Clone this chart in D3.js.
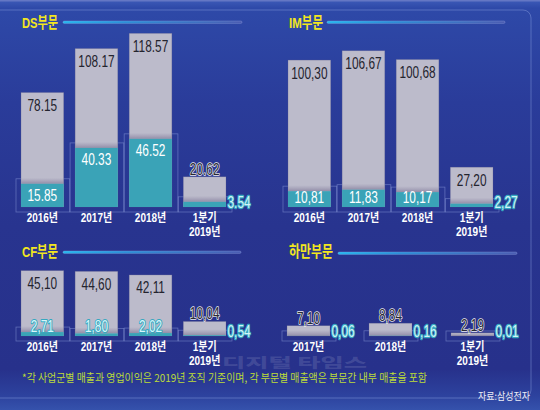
<!DOCTYPE html>
<html><head><meta charset="utf-8">
<script src="https://cdn.jsdelivr.net/npm/d3@7"></script>
<style>html,body{margin:0;padding:0;background:#28348f;overflow:hidden}</style>
</head><body><svg id="c" width="540" height="410"></svg>
<script>
// ---- data (조원) ----
const periods = ["2016년","2017년","2018년","1분기|2019년"];
const dsSales = [78.15,108.17,118.57,20.62];
const dsProfit = [15.85,40.33,46.52,3.54];
const imSales = [100.30,106.67,100.68,27.20];
const imProfit = [10.81,11.83,10.17,2.27];
const cfSales = [45.10,44.60,42.11,10.04];
const cfProfit = [2.71,1.80,2.02,0.54];
const harmanPeriods = ["2017년","2018년","1분기|2019년"];
const harmanSales = [7.10,8.84,2.19];
const harmanProfit = [0.06,0.16,0.01];
const titles = ["DS부문","IM부문","CF부문","하만부문"];
const decimalSep = [".", ",", ",", ","];
const footnote = "*각 사업군별 매출과 영업이익은 2019년 조직 기준이며, 각 부문별 매출액은 부문간 내부 매출을 포함";
const source = "자료:삼성전자";
const watermark = "디지털 타임스";

const svg = d3.select("#c");
const defs = svg.append("defs");

// background
const bg = defs.append("linearGradient").attr("id","bg").attr("x1",0).attr("y1",0).attr("x2",0).attr("y2",1);
[[0,"#3d5bb8"],[0.02,"#2e49a8"],[0.25,"#2a3c9a"],[0.55,"#28348f"],[0.9,"#27318b"],[0.965,"#2d429e"],[1,"#3552ac"]]
  .forEach(([o,c])=>bg.append("stop").attr("offset",o).attr("stop-color",c));
svg.append("rect").attr("width",540).attr("height",410).attr("fill","url(#bg)");
svg.append("rect").attr("x",0).attr("y",0).attr("width",540).attr("height",1.5).attr("fill","#6477c4");
svg.append("rect").attr("x",-10).attr("y",10).attr("width",541).attr("height",388).attr("rx",8)
  .attr("fill","none").attr("stroke","rgba(140,160,225,0.45)").attr("stroke-width",1);

// gradients
const lg = defs.append("linearGradient").attr("id","tl").attr("x1",0).attr("x2",1).attr("y1",0).attr("y2",0);
[[0,"#23b8f0"],[0.35,"#2a8fd8"],[1,"#4a5cb2"]].forEach(([o,c])=>lg.append("stop").attr("offset",o).attr("stop-color",c));
const sh = defs.append("linearGradient").attr("id","sh").attr("x1",0).attr("x2",0).attr("y1",0).attr("y2",1);
[[0,"rgba(110,100,140,0)"],[1,"rgba(95,85,125,0.45)"]].forEach(([o,c])=>sh.append("stop").attr("offset",o).attr("stop-color",c));

// watermark
svg.append("text").attr("x",222).attr("y",366.5).attr("font-family","Noto Sans CJK KR").attr("font-weight",900)
  .attr("font-size",13).attr("textLength",145).attr("lengthAdjust","spacingAndGlyphs")
  .attr("fill","rgba(175,180,210,0.2)").text(watermark);

const NUMFONT = "'Liberation Sans', 'Noto Sans CJK KR', sans-serif";
function stxt(g, x, y, s, o) {
  return g.append("text")
    .attr("transform", `translate(${x},${y}) scale(${o.sx||0.72},1)`)
    .attr("text-anchor", o.anchor || "middle")
    .attr("font-family", o.family || NUMFONT)
    .attr("font-size", o.size || 16.5)
    .attr("font-weight", o.weight || 400)
    .attr("fill", o.fill || "#222")
    .attr("stroke", o.stroke || null)
    .attr("stroke-width", o.sw || null)
    .attr("stroke-linejoin","round")
    .attr("paint-order","stroke")
    .text(s);
}

const yTop = d3.scaleLinear().domain([0,120]).range([207, 31.2]);
const yBot = d3.scaleLinear().domain([0,50]).range([336, 263.5]);

const panels = [
  {cats:periods, sales:dsSales, profit:dsProfit, y:yTop, xr:[21,226], pad:0.21, tx:22, ty:28, tw:36, line:[63,242,21]},
  {cats:periods, sales:imSales, profit:imProfit, y:yTop, xr:[288,493], pad:0.21, tx:289, ty:28, tw:34, line:[327,505,21]},
  {cats:periods, sales:cfSales, profit:cfProfit, y:yBot, xr:[21,226], pad:0.21, tx:22, ty:257, tw:36, line:[63,241,251]},
  {cats:harmanPeriods, sales:harmanSales, profit:harmanProfit, y:yBot, xr:[287,494], pad:0.4756, tx:289, ty:257, tw:44, line:[338,517,252]}
];

panels.forEach((p, pi) => {
  const g = svg.append("g");
  const sep = decimalSep[pi];
  const fmt = v => d3.format(".2f")(v).replace(".", sep);
  const x = d3.scaleBand().domain(p.cats).range(p.xr).paddingInner(p.pad).paddingOuter(0);
  const y = p.y;
  const base = y(0);
  const bw = x.bandwidth();

  // title + line
  g.append("text").attr("x",p.tx).attr("y",p.ty).attr("font-family","'Liberation Sans','Noto Sans CJK KR',sans-serif")
    .attr("font-weight",700).attr("font-size",15.5).attr("textLength",p.tw).attr("lengthAdjust","spacingAndGlyphs")
    .attr("fill","#f2e620").text(titles[pi]);
  g.append("rect").attr("x",p.line[0]).attr("y",p.line[2]).attr("width",p.line[1]-p.line[0]).attr("height",2.4)
    .attr("rx",1.2).attr("fill","url(#tl)").attr("stroke","rgba(150,165,225,0.55)").attr("stroke-width",0.6);

  const data = p.cats.map((c,i)=>({c, s:p.sales[i], pr:p.profit[i], q1: c.startsWith("1분기")}));

  // platform boxes
  g.selectAll("rect.box").data(data).join("rect").attr("class","box")
    .attr("x",d=>x(d.c)-5).attr("y",d=>y(d.pr)-5).attr("width",bw+11)
    .attr("height",d=>base+5-(y(d.pr)-5))
    .attr("fill","none").attr("stroke","rgba(165,180,235,0.45)").attr("stroke-width",0.8);

  // sales bars
  g.selectAll("rect.sales").data(data).join("rect").attr("class","sales")
    .attr("x",d=>x(d.c)).attr("y",d=>y(d.s)).attr("width",bw).attr("height",d=>base-y(d.s))
    .attr("fill","#bcbbcb").attr("stroke","rgba(95,95,140,0.45)").attr("stroke-width",0.6);
  // shadow above profit
  g.selectAll("rect.sh").data(data).join("rect").attr("class","sh")
    .attr("x",d=>x(d.c)+0.3).attr("width",bw-0.6)
    .attr("y",d=>Math.max(y(d.s), y(d.pr)-6)).attr("height",d=>y(d.pr)-Math.max(y(d.s), y(d.pr)-6))
    .attr("fill","url(#sh)");
  // profit bars
  g.selectAll("rect.pr").data(data).join("rect").attr("class","pr")
    .attr("x",d=>x(d.c)).attr("y",d=>y(d.pr)).attr("width",bw).attr("height",d=>base-y(d.pr))
    .attr("fill","#3aa3b7");

  data.forEach(d => {
    const cx = x(d.c) + bw/2;
    const top = y(d.s), ptop = y(d.pr);
    // sales label
    if (base - top >= 35) stxt(g, cx, top+18.5, fmt(d.s), {fill:"#24242e"});
    else stxt(g, cx, top-2, fmt(d.s), {fill:"#2a2a35", stroke:"#eeeef4", sw:1.6});
    // profit label
    if (d.q1 || base - top < 20) {
      stxt(g, x(d.c)+bw+1.5, base+1, fmt(d.pr), {anchor:"start", fill:"#d2f3f8", stroke:"#35a8c0", sw:2.4});
    } else if (base - ptop >= 12) {
      stxt(g, cx, Math.min(ptop+17, base-4), fmt(d.pr), {fill:"#ffffff"});
    } else {
      stxt(g, cx, base-4, fmt(d.pr), {fill:"#d6f5fa", stroke:"#35a8c0", sw:2.2});
    }
    // category label
    const parts = d.c.split("|");
    parts.forEach((t,k)=>stxt(g, cx, base+15+k*14, t,
      {fill:"#ffffff", size:12.5, weight:700, sx:0.8}));
  });
});

// footnote & source
svg.append("text").attr("x",22).attr("y",382).attr("font-family","'Noto Sans CJK KR',sans-serif")
  .attr("font-size",11).attr("textLength",405).attr("lengthAdjust","spacingAndGlyphs")
  .attr("fill","#bcdc38").text(footnote);
svg.append("text").attr("x",478).attr("y",400).attr("font-family","'Noto Sans CJK KR',sans-serif")
  .attr("font-size",10).attr("textLength",52).attr("lengthAdjust","spacingAndGlyphs")
  .attr("fill","#eeeef6").text(source);
</script></body></html>
